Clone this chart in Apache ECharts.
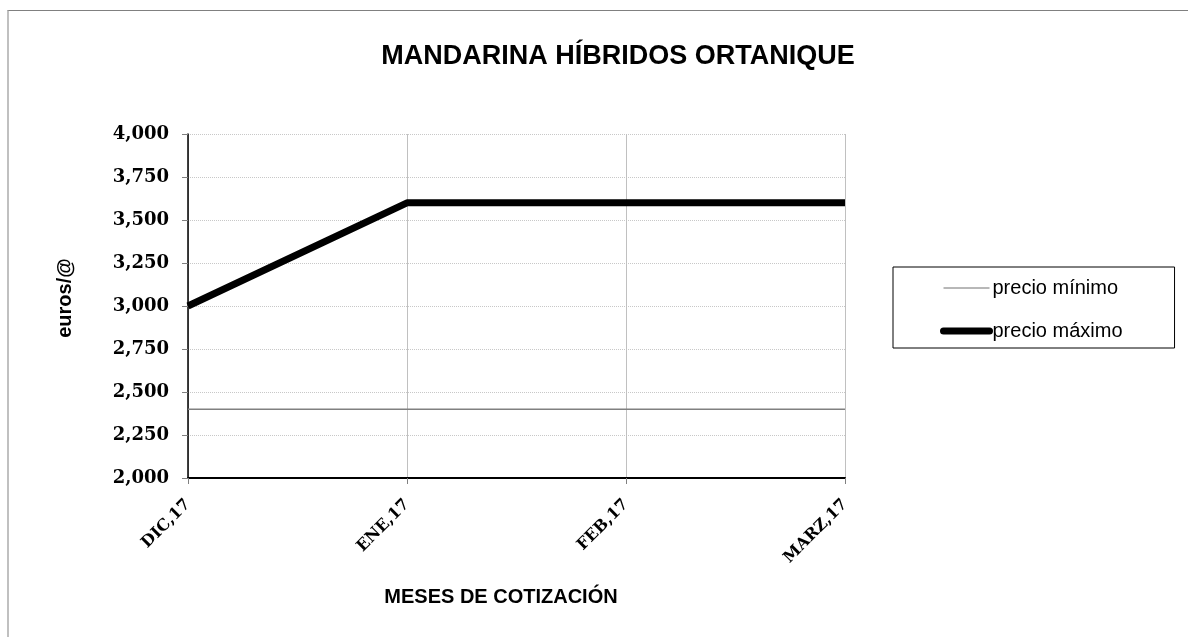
<!DOCTYPE html>
<html>
<head>
<meta charset="utf-8">
<script src="https://cdn.jsdelivr.net/npm/echarts@6/dist/echarts.min.js"></script>
<style>
  html, body { margin: 0; padding: 0; background: #fff; }
  #frame { position: absolute; left: 7px; top: 10px; width: 1181px; height: 627px;
    border-top: 1px solid #808080; border-left: 2px solid #c0c0c0; box-sizing: border-box; }
  #chart { position: absolute; left: 0; top: 0; width: 1188px; height: 637px; }
</style>
</head>
<body>
<div id="frame"></div>
<div id="chart"></div>
<script>
const months = ['DIC,17', 'ENE,17', 'FEB,17', 'MARZ,17']
const precioMinimo = [2.4, 2.4, 2.4, 2.4]
const precioMaximo = [3.0, 3.6, 3.6, 3.6]

const chart = echarts.init(document.getElementById('chart'), null, { renderer: 'canvas' })

const fmt = v => v.toFixed(3).replace('.', ',')
const tickFont = { fontFamily: 'DejaVu Serif, Liberation Serif', fontWeight: 'bold', color: '#000' }

chart.setOption({
  animation: false,
  title: [
    {
      text: 'MANDARINA HÍBRIDOS ORTANIQUE',
      left: 613, top: 38, textAlign: 'center',
      textStyle: { fontFamily: 'Liberation Sans, Arial', fontWeight: 'bold', fontSize: 27, color: '#000' },
    },
    {
      text: 'MESES DE COTIZACIÓN',
      left: 496, top: 582, textAlign: 'center',
      textStyle: { fontFamily: 'Liberation Sans, Arial', fontWeight: 'bold', fontSize: 20, color: '#000' },
    },
  ],
  legend: {
    orient: 'vertical',
    left: 893, top: 267,
    padding: [11, 52, 7, 47],
    itemWidth: 46, itemHeight: 14, itemGap: 23,
    borderColor: '#000', borderWidth: 1,
    itemStyle: { opacity: 0 },
    textStyle: { fontFamily: 'Liberation Sans, Arial', fontSize: 20, color: '#000', padding: [0, 0, 0, -2] },
    data: [
      { name: 'precio mínimo', lineStyle: { width: 1, color: '#707070' } },
      { name: 'precio máximo', lineStyle: { width: 7, color: '#000', cap: 'round' } },
    ],
  },
  grid: { left: 188, right: 343, top: 134, bottom: 159 },
  xAxis: {
    type: 'category',
    data: months,
    boundaryGap: false,
    axisLine: { lineStyle: { color: '#000', width: 2 } },
    axisTick: { show: true, length: 6, lineStyle: { color: '#808080' } },
    axisLabel: { ...tickFont, rotate: 45, margin: 24, fontSize: 16 },
    splitLine: { show: true, lineStyle: { color: '#c0c0c0', width: 1 } },
  },
  yAxis: {
    type: 'value',
    min: 2, max: 4, interval: 0.25,
    name: 'euros/@',
    nameLocation: 'middle', nameGap: 113, nameRotate: 90,
    nameTextStyle: {
      fontFamily: 'Liberation Sans, Arial', fontWeight: 'bold', fontSize: 20, color: '#000',
      padding: [0, 0, 0, 16],
    },
    axisLine: { show: true, lineStyle: { color: '#000', width: 1.5 } },
    axisTick: { show: true, length: 6, lineStyle: { color: '#808080' } },
    axisLabel: { ...tickFont, formatter: fmt, margin: 19, fontSize: 18 },
    splitLine: { show: true, lineStyle: { color: '#c8c8c8', type: 'dotted', width: 1 } },
  },
  series: [
    {
      name: 'precio mínimo', type: 'line', data: precioMinimo,
      symbol: 'none', lineStyle: { color: '#808080', width: 1.5 }, itemStyle: { color: '#808080' },
    },
    {
      name: 'precio máximo', type: 'line', data: precioMaximo,
      symbol: 'none', lineStyle: { color: '#000', width: 7 }, itemStyle: { color: '#000' },
    },
  ],
})
</script>
</body>
</html>
